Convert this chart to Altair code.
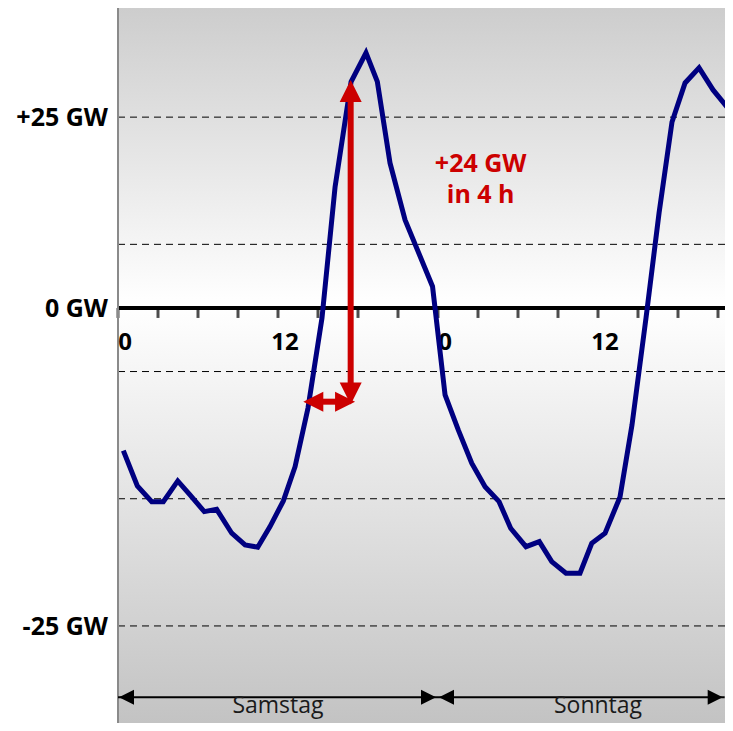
import altair as alt
import pandas as pd

# ---- data ----
hours = [0.40, 1.45, 2.53, 3.40, 4.48, 5.40, 6.47, 7.40, 8.53, 9.53,
         10.48, 11.40, 12.40, 13.28, 14.25, 15.30, 16.28, 17.48, 18.60, 19.45,
         20.40, 21.53, 23.59, 24.53, 25.52, 26.53, 27.53, 28.58, 29.45, 30.60,
         31.60, 32.53, 33.60, 34.65, 35.53, 36.53, 37.65, 38.55, 39.60, 40.58,
         41.55, 42.53, 43.58, 44.63, 45.68]
gw = [-11.22, -13.99, -15.23, -15.23, -13.60, -14.70, -16.01, -15.83, -17.71, -18.63,
      -18.81, -17.19, -15.17, -12.48, -7.86, -0.79, 9.51, 17.77, 20.05, 17.79,
      11.40, 6.92, 1.69, -6.84, -9.59, -12.21, -14.05, -15.23, -17.32, -18.77,
      -18.37, -19.94, -20.86, -20.86, -18.50, -17.71, -14.86, -9.20, -0.79, 7.47,
      14.62, 17.69, 18.87, 17.14, 15.80]

grid_values = [15, 5, -5, -15, -25]
y_label_values = [15, 0, -25]
y_label_texts = ["+25 GW", "0 GW", "-25 GW"]
tick_hours = [0, 3, 6, 9, 12, 15, 18, 21, 24, 27, 30, 33, 36, 39, 42, 45]
x_label_hours = [0, 12, 24, 36]
x_label_texts = ["0", "12", "0", "12"]
day_names = ["Samstag", "Sonntag"]
day_mid = [12, 36]
day_start = [0, 24]
day_end = [24, 45.5]
annotation_lines = ["+24 GW", "in 4 h"]

# plot geometry (data units)
X_MAX = 45.525
Y_MIN, Y_MAX = -32.63, 23.58
RED_X, RED_TOP, RED_BOTTOM = 17.45, 17.92, -7.6
H_Y, H_X0, H_X1 = -7.37, 13.9, 17.78
DAY_ARROW_Y, DAY_LABEL_Y = -30.6, -31.85
NOTE_X, NOTE_Y = 27.2, 10.7

FONT = "Open Sans"
RED = "#cc0000"
NAVY = "#000080"

X = alt.Scale(domain=[0, X_MAX], nice=False, zero=False)
Y = alt.Scale(domain=[Y_MIN, Y_MAX], nice=False, zero=False)

line_df = pd.DataFrame({"h": hours, "v": gw})
grid_df = pd.DataFrame({"g": grid_values})
ylab_df = pd.DataFrame({"v": y_label_values, "t": y_label_texts})
tick_df = pd.DataFrame({"h": tick_hours})
xlab_df = pd.DataFrame({"h": x_label_hours, "t": x_label_texts})
day_df = pd.DataFrame({"name": day_names, "mid": day_mid, "s": day_start, "e": day_end})
one = pd.DataFrame({"a": [0]})

bg = alt.Chart(one).mark_rect(
    color=alt.LinearGradient(
        gradient="linear", x1=0, x2=0, y1=0, y2=1,
        stops=[alt.GradientStop(color="#cdcdcd", offset=0),
               alt.GradientStop(color="#ffffff", offset=0.415),
               alt.GradientStop(color="#c3c3c3", offset=1)],
    )
).encode(
    x=alt.XDatum(0, scale=X, axis=None), x2=alt.X2Datum(X_MAX),
    y=alt.YDatum(Y_MIN, scale=Y, axis=None), y2=alt.Y2Datum(Y_MAX),
)

left_axis = alt.Chart(one).mark_rule(color="#8a8a8a", strokeWidth=2).encode(
    x=alt.XDatum(0, scale=X, axis=None)
)

grid = alt.Chart(grid_df).mark_rule(color="black", strokeWidth=1, strokeDash=[7, 5]).encode(
    y=alt.Y("g:Q", scale=Y, axis=None)
)

zero = alt.Chart(one).mark_rule(color="black", strokeWidth=4).encode(
    y=alt.YDatum(0, scale=Y, axis=None)
)

ticks = alt.Chart(tick_df).mark_tick(color="black", orient="vertical", size=10, thickness=3, yOffset=5).encode(
    x=alt.X("h:Q", scale=X, axis=None), y=alt.YDatum(0, scale=Y, axis=None)
)

xlabels = alt.Chart(xlab_df).mark_text(
    font=FONT, fontSize=24, fontWeight="bold", color="black", align="center", baseline="alphabetic", dx=7, dy=42
).encode(x=alt.X("h:Q", scale=X, axis=None), y=alt.YDatum(0, scale=Y, axis=None), text="t:N")

ylabels = alt.Chart(ylab_df).mark_text(
    font=FONT, fontSize=25, fontWeight="bold", color="black", align="right", baseline="alphabetic", dx=-10, dy=9
).encode(x=alt.XDatum(0, scale=X, axis=None), y=alt.Y("v:Q", scale=Y, axis=None), text="t:N")

line = alt.Chart(line_df).mark_line(color=NAVY, strokeWidth=5, clip=True).encode(
    x=alt.X("h:Q", scale=X, axis=None), y=alt.Y("v:Q", scale=Y, axis=None)
)

# red arrows
v_shaft = alt.Chart(one).mark_rule(color=RED, strokeWidth=6).encode(
    x=alt.XDatum(RED_X, scale=X, axis=None),
    y=alt.YDatum(RED_BOTTOM + 1.3, scale=Y, axis=None), y2=alt.Y2Datum(RED_TOP - 1.5),
)
h_shaft = alt.Chart(one).mark_rule(color=RED, strokeWidth=6).encode(
    x=alt.XDatum(H_X0 + 1.2, scale=X, axis=None), x2=alt.X2Datum(H_X1 - 1.2),
    y=alt.YDatum(H_Y, scale=Y, axis=None),
)

def head(xv, yv, path, color, size):
    return alt.Chart(one).mark_point(shape=path, filled=True, opacity=1, color=color, size=size, strokeWidth=0).encode(
        x=alt.XDatum(xv, scale=X, axis=None), y=alt.YDatum(yv, scale=Y, axis=None)
    )

UP = "M0,0L-1,2L1,2Z"
DOWN = "M0,0L-1,-2L1,-2Z"
LEFT = "M0,0L2,-1L2,1Z"
RIGHT = "M0,0L-2,-1L-2,1Z"

red_heads = [
    head(RED_X, RED_TOP, UP, RED, 484),
    head(RED_X, RED_BOTTOM, DOWN, RED, 484),
    head(H_X0, H_Y, LEFT, RED, 400),
    head(H_X1, H_Y, RIGHT, RED, 400),
]

note = alt.Chart(one).mark_text(
    text=annotation_lines, font=FONT, fontSize=25, fontWeight="bold", color=RED,
    align="center", baseline="alphabetic", lineHeight=31.5,
).encode(x=alt.XDatum(NOTE_X, scale=X, axis=None), y=alt.YDatum(NOTE_Y, scale=Y, axis=None))

# day arrows
day_rule = alt.Chart(day_df).mark_rule(color="black", strokeWidth=2).encode(
    x=alt.X("s:Q", scale=X, axis=None), x2="e:Q", y=alt.YDatum(DAY_ARROW_Y, scale=Y, axis=None)
)
day_left = alt.Chart(day_df).mark_point(shape=LEFT, filled=True, opacity=1, color="black", size=225, strokeWidth=0, xOffset=1).encode(
    x=alt.X("s:Q", scale=X, axis=None), y=alt.YDatum(DAY_ARROW_Y, scale=Y, axis=None)
)
day_right = alt.Chart(day_df).mark_point(shape=RIGHT, filled=True, opacity=1, color="black", size=225, strokeWidth=0, xOffset=-2).encode(
    x=alt.X("e:Q", scale=X, axis=None), y=alt.YDatum(DAY_ARROW_Y, scale=Y, axis=None)
)
day_text = alt.Chart(day_df).mark_text(
    font=FONT, fontSize=23, color="#1a1a1a", align="center", baseline="alphabetic"
).encode(x=alt.X("mid:Q", scale=X, axis=None), y=alt.YDatum(DAY_LABEL_Y, scale=Y, axis=None), text="name:N")

chart = alt.layer(
    bg, grid, zero, ticks, left_axis, xlabels, ylabels, line,
    v_shaft, h_shaft, *red_heads, note, day_rule, day_left, day_right, day_text,
).properties(
    width=607, height=715,
    autosize=alt.AutoSizeParams(type="none"),
    padding={"left": 110, "top": 0, "right": 0, "bottom": 0},
).configure_view(stroke=None)

chart.save("out.html", embed_options={"renderer": "svg", "actions": False})
